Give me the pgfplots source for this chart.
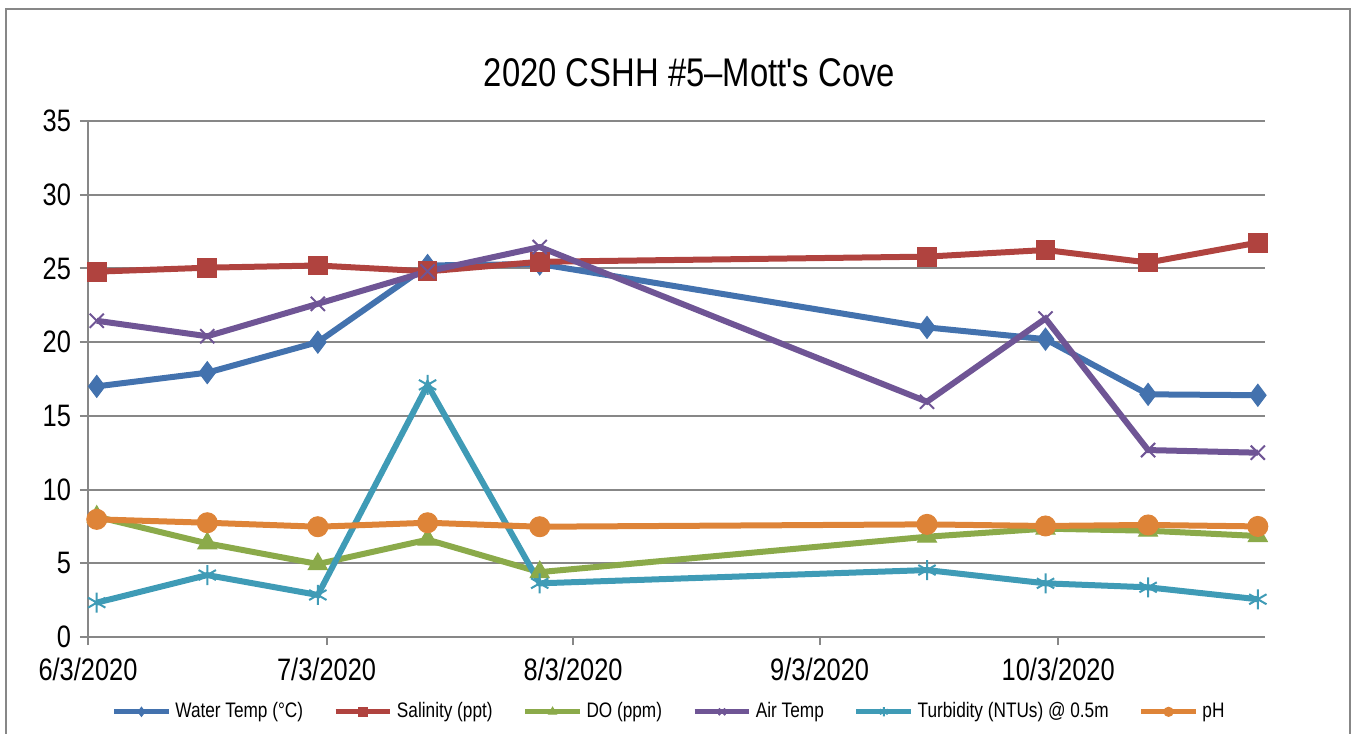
\documentclass[border=0pt]{standalone}
\usepackage{fontspec}
\setmainfont{Liberation Sans}[FakeStretch=0.82]
\newfontfamily\plainfont{Liberation Sans}[FakeStretch=0.82]
\usepackage{pgfplots}
\pgfplotsset{compat=1.18}

\definecolor{cWater}{HTML}{4372AE}
\definecolor{cSal}{HTML}{B0433F}
\definecolor{cDO}{HTML}{8BAA4A}
\definecolor{cAir}{HTML}{6F5595}
\definecolor{cTurb}{HTML}{3F9BB6}
\definecolor{cPH}{HTML}{DE8438}
\definecolor{gridgray}{HTML}{878787}

\begin{document}
\begin{tikzpicture}
\useasboundingbox (-44pt,-48.5pt) rectangle (634pt,318.5pt);
\draw[gridgray, line width=1pt] (-41pt,-60pt) rectangle (631pt,314pt);
\begin{axis}[
    at={(0,0)}, anchor=south west,
    scale only axis,
    width=588.5pt, height=258pt,
    xmin=0, xmax=148,
    ymin=0, ymax=35,
    xtick={0,30,61,92,122},
    xticklabels={6/3/2020,7/3/2020,8/3/2020,9/3/2020,10/3/2020},
    ytick={0,5,...,35},
    axis x line*=bottom, axis y line*=left,
    x axis line style={-, gridgray, line width=1pt},
    y axis line style={-, gridgray, line width=1pt},
    tick align=outside,
    major tick length=4pt,
    tick style={gridgray, line width=1pt},
    ymajorgrids,
    major grid style={gridgray, line width=1pt},
    tick label style={font=\fontsize{15.5}{17}\selectfont},
    /pgf/number format/assume math mode=true,
    xticklabel style={yshift=-3pt},
    yticklabel style={xshift=-1pt},
    clip=false,
    legend columns=6,
    legend style={draw=none, fill=none, font=\fontsize{10.5}{12}\selectfont,
        at={(0.4945,-0.145)}, anchor=center,
        /tikz/every even column/.append style={column sep=13pt}},
    legend image code/.code={\draw[#1, mark size=2.3pt, line width=2.6pt, mark repeat=2, mark phase=2]
        plot coordinates {(0cm,0cm) (0.48cm,0cm) (0.96cm,0cm)};},
    every axis plot/.append style={line width=3pt},
]
\addplot[cWater, mark=diamond*, mark size=5.5pt, mark options={line width=0.5pt}] coordinates {
    (1.1,17.0) (15.0,17.93) (28.9,20.0) (42.7,25.2) (56.8,25.3)
    (105.5,21.0) (120.4,20.2) (133.3,16.46) (147.1,16.4)
};
\addlegendentry{Water Temp (°C)}
\addplot[cSal, mark=square*, mark size=4.7pt, mark options={line width=0.5pt}] coordinates {
    (1.1,24.78) (15.0,25.05) (28.9,25.2) (42.7,24.8) (56.8,25.45)
    (105.5,25.8) (120.4,26.25) (133.3,25.4) (147.1,26.75)
};
\addlegendentry{Salinity (ppt)}
\addplot[cDO, mark=triangle*, mark size=5.5pt, mark options={line width=0.5pt}] coordinates {
    (1.1,8.16) (15.0,6.35) (28.9,4.95) (42.7,6.6) (56.8,4.4)
    (105.5,6.8) (120.4,7.35) (133.3,7.21) (147.1,6.85)
};
\addlegendentry{DO (ppm)}
\addplot[cAir, mark=x, mark size=5pt, mark options={line width=1pt}] coordinates {
    (1.1,21.45) (15.0,20.4) (28.9,22.6) (42.7,24.8) (56.8,26.45)
    (105.5,15.96) (120.4,21.6) (133.3,12.68) (147.1,12.5)
};
\addlegendentry{Air Temp}
\addplot[cTurb, mark=asterisk, mark size=5pt, mark options={line width=1pt}] coordinates {
    (1.1,2.33) (15.0,4.2) (28.9,2.85) (42.7,17.1) (56.8,3.64)
    (105.5,4.54) (120.4,3.64) (133.3,3.37) (147.1,2.56)
};
\addlegendentry{Turbidity (NTUs) @ 0.5m}
\addplot[cPH, mark=*, mark size=5pt, mark options={line width=0.5pt}] coordinates {
    (1.1,7.98) (15.0,7.75) (28.9,7.48) (42.7,7.75) (56.8,7.48)
    (105.5,7.64) (120.4,7.53) (133.3,7.6) (147.1,7.5)
};
\addlegendentry{pH}
\node[font=\plainfont\fontsize{20}{23}\selectfont] at (rel axis cs:0.511,1) [yshift=24pt] {2020 CSHH \#5–Mott's Cove};
\end{axis}
\end{tikzpicture}
\end{document}
